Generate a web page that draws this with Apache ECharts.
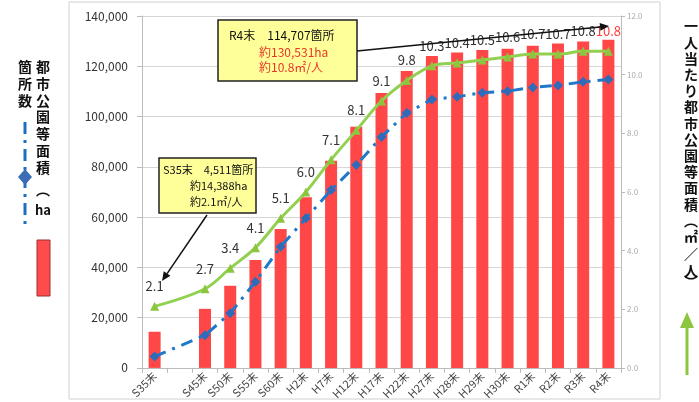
<!DOCTYPE html>
<html><head><meta charset="utf-8">
<script src="https://cdn.jsdelivr.net/npm/echarts@6/dist/echarts.min.js"></script>
<style>html,body{margin:0;padding:0;background:#fff}#c{width:699px;height:402px}</style>
</head><body><div id="c"></div>
<script>
const categories = ['S35末','','S45末','S50末','S55末','S60末','H2末','H7末','H12末','H17末','H22末','H27末','H28末','H29末','H30末','R1末','R2末','R3末','R4末'];
const areaHa = [14388, null, 23500, 32700, 42900, 55300, 67900, 82400, 95900, 109400, 118100, 124100, 125500, 126500, 127000, 128200, 129100, 129900, 130531];
const parkCount = [4511, null, 13000, 21700, 34300, 48200, 59500, 70800, 80700, 91900, 101400, 106800, 107900, 109500, 110100, 111600, 112400, 113800, 114707];
const perCapita = [2.1, null, 2.7, 3.4, 4.1, 5.1, 6.0, 7.1, 8.1, 9.1, 9.8, 10.3, 10.4, 10.5, 10.6, 10.7, 10.7, 10.8, 10.8];
const leftTicks = [0, 20000, 40000, 60000, 80000, 100000, 120000, 140000];
const rightTicks = [0, 2, 4, 6, 8, 10, 12];

const FONT = '"Noto Sans CJK JP", "Noto Sans", sans-serif';
const chart = echarts.init(document.getElementById('c'));

function vtext(str, x, y0, pitch, size) {
  return str.split('').map((ch, i) => ({
    type: 'text', z: 100,
    style: { text: ch, x: x, y: y0 + i * pitch, fill: '#111', font: 'bold ' + size + 'px ' + FONT, align: 'center', verticalAlign: 'middle' }
  }));
}
function arrow(x1, y1, x2, y2) {
  const dx = x2 - x1, dy = y2 - y1, L = Math.hypot(dx, dy);
  const ux = dx / L, uy = dy / L, hl = 9, hw = 4;
  const bx = x2 - ux * hl, by = y2 - uy * hl;
  return [
    { type: 'line', z: 100, shape: { x1: x1, y1: y1, x2: bx, y2: by }, style: { stroke: '#111', lineWidth: 1.5 } },
    { type: 'polygon', z: 100, shape: { points: [[x2, y2], [bx - uy * hw, by + ux * hw], [bx + uy * hw, by - ux * hw]] }, style: { fill: '#111' } }
  ];
}

const graphics = [
  { type: 'rect', z: 0, shape: { x: 69, y: 2, width: 591, height: 397 }, style: { fill: 'none', stroke: '#d0d0d0', lineWidth: 1 } },
  // left legend
  ...vtext('都市公園等面積', 43, 67, 16.7, 14),
  { type: 'text', z: 100, style: { text: '︵', x: 43, y: 190, fill: '#111', font: 'bold 14px ' + FONT, align: 'center', verticalAlign: 'middle' } },
  { type: 'text', z: 100, style: { text: 'ha', x: 43, y: 210, fill: '#111', font: 'bold 13px ' + FONT, align: 'center', verticalAlign: 'middle' } },
  ...vtext('箇所数', 25, 67, 16.7, 14),
  { type: 'line', z: 100, shape: { x1: 25, y1: 122, x2: 25, y2: 230 }, style: { stroke: '#1f6fbf', lineWidth: 3, lineDash: [12, 6, 3, 6] } },
  { type: 'polygon', z: 101, shape: { points: [[25, 169], [32, 177], [25, 185], [18, 177]] }, style: { fill: '#3a6db5' } },
  { type: 'rect', z: 100, shape: { x: 37, y: 240, width: 13, height: 56 }, style: { fill: '#ff4b4b', stroke: '#9b3030', lineWidth: 1 } },
  // right legend
  ...vtext('一人当たり都市公園等面積', 691, 26, 16.2, 14),
  { type: 'text', z: 100, style: { text: '︵', x: 691, y: 221, fill: '#111', font: 'bold 14px ' + FONT, align: 'center', verticalAlign: 'middle' } },
  ...vtext('㎡／人', 691, 237, 17, 14),
  { type: 'text', z: 100, style: { text: '︶', x: 691, y: 282, fill: '#111', font: 'bold 14px ' + FONT, align: 'center', verticalAlign: 'middle' } },
  { type: 'line', z: 100, shape: { x1: 687, y1: 325, x2: 687, y2: 375 }, style: { stroke: '#8cc63f', lineWidth: 3 } },
  { type: 'polygon', z: 100, shape: { points: [[687, 312], [694, 328], [680, 328]] }, style: { fill: '#8cc63f' } },
  // R4 box
  { type: 'rect', z: 100, shape: { x: 218, y: 20, width: 139, height: 61 }, style: { fill: '#ffff99', stroke: '#222', lineWidth: 1.5 } },
  { type: 'text', z: 101, style: { text: 'R4末　114,707箇所', x: 229, y: 35, fill: '#111', font: '12px ' + FONT, verticalAlign: 'middle' } },
  { type: 'text', z: 101, style: { text: '約130,531ha', x: 259, y: 52, fill: '#e8352b', font: '12px ' + FONT, verticalAlign: 'middle' } },
  { type: 'text', z: 101, style: { text: '約10.8㎡/人', x: 259, y: 67, fill: '#e8352b', font: '12px ' + FONT, verticalAlign: 'middle' } },
  ...arrow(357, 51, 609, 26),
  // S35 box
  { type: 'rect', z: 100, shape: { x: 159, y: 158, width: 97, height: 55 }, style: { fill: '#ffff99', stroke: '#222', lineWidth: 1.5 } },
  { type: 'text', z: 101, style: { text: 'S35末　4,511箇所', x: 163, y: 170, fill: '#111', font: '11px ' + FONT, verticalAlign: 'middle' } },
  { type: 'text', z: 101, style: { text: '約14,388ha', x: 190, y: 186, fill: '#111', font: '11px ' + FONT, verticalAlign: 'middle' } },
  { type: 'text', z: 101, style: { text: '約2.1㎡/人', x: 190, y: 202, fill: '#111', font: '11px ' + FONT, verticalAlign: 'middle' } },
  ...arrow(207, 215, 162, 281)
];

const last = perCapita.length - 1;
chart.setOption({
  animation: false,
  textStyle: { fontFamily: FONT },
  grid: { left: 142, right: 78, top: 16, bottom: 34 },
  xAxis: {
    type: 'category', data: categories, boundaryGap: true,
    axisLine: { lineStyle: { color: '#bbb' } },
    axisTick: { show: true, alignWithLabel: false, lineStyle: { color: '#bbb' } },
    axisLabel: { rotate: 45, fontSize: 11, color: '#444', margin: 6, interval: 0, fontFamily: FONT }
  },
  yAxis: [
    {
      type: 'value', min: leftTicks[0], max: leftTicks[leftTicks.length - 1], interval: 20000,
      axisLine: { show: true, lineStyle: { color: '#bbb' } },
      axisTick: { show: true, length: 5, lineStyle: { color: '#bbb' } },
      splitLine: { lineStyle: { color: '#d6d6d6' } },
      axisLabel: { fontSize: 12, color: '#333', margin: 14, formatter: v => v.toLocaleString('en-US') }
    },
    {
      type: 'value', min: rightTicks[0], max: rightTicks[rightTicks.length - 1], interval: 2,
      axisLine: { show: true, lineStyle: { color: '#bbb' } },
      axisTick: { show: true, length: 4, lineStyle: { color: '#bbb' } },
      splitLine: { show: false },
      axisLabel: { fontSize: 8, color: '#aaa', margin: 6, formatter: v => v.toFixed(1) }
    }
  ],
  series: [
    {
      type: 'bar', data: areaHa, barWidth: 12, yAxisIndex: 0, z: 2,
      itemStyle: { color: '#ff4747' }
    },
    {
      type: 'line', data: parkCount, yAxisIndex: 0, connectNulls: true, z: 3,
      symbol: 'diamond', symbolSize: 10,
      itemStyle: { color: '#2f6bb8' },
      lineStyle: { color: '#1f78c8', width: 3, type: [12, 7, 3, 7] }
    },
    {
      type: 'line', data: perCapita.map((v, i) => i === last ? { value: v, label: { color: '#ff3b3b' } } : v),
      yAxisIndex: 1, connectNulls: true, z: 4, smooth: 0.35,
      symbol: 'triangle', symbolSize: 9,
      itemStyle: { color: '#8cc63f' },
      lineStyle: { color: '#92d050', width: 3 },
      label: { show: true, position: 'top', distance: 9, fontSize: 13, color: '#333', fontFamily: FONT, formatter: p => Number(p.value).toFixed(1) }
    }
  ],
  graphic: graphics
});
</script></body></html>
